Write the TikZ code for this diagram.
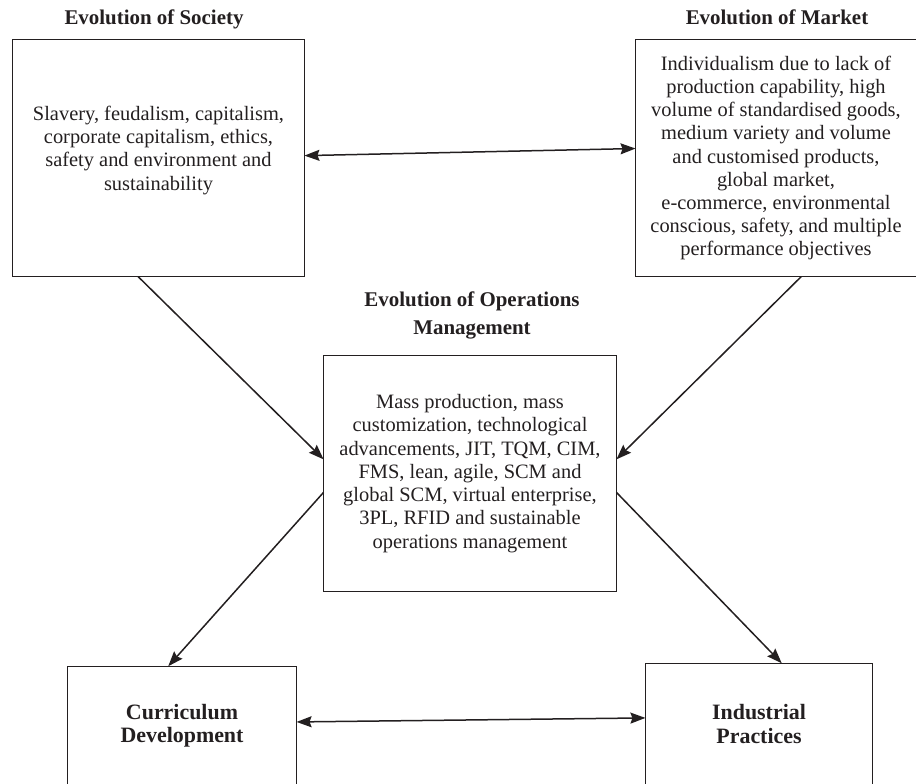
\documentclass[tikz,border=0pt]{standalone}
\usepackage{fontspec}
\setmainfont{Liberation Serif}
\usetikzlibrary{arrows.meta,calc}
\definecolor{ink}{HTML}{231F20}
\tikzset{
  box/.style={draw=ink, line width=1.2bp, inner sep=0pt, outer sep=0pt, align=center, text=ink, font=\fontsize{20.5}{23.3}\selectfont},
  head/.style={text=ink, inner sep=0pt, align=center, font=\bfseries\fontsize{21}{28}\selectfont},
  endbox/.style={box, font=\bfseries\fontsize{22}{23.5}\selectfont},
  tip/.style={-{Stealth[length=15bp, width=11bp, inset=2bp]}},
  link/.style={tip, draw=ink, line width=1.5bp},
  both/.style={{Stealth[length=15bp, width=11bp, inset=2bp]}-{Stealth[length=15bp, width=11bp, inset=2bp]}, draw=ink, line width=1.5bp},
}

\begin{document}
\begin{tikzpicture}[x=1bp, y=-1bp]
  \useasboundingbox (0,0) rectangle (916,784);
  \node[head, anchor=base] (socT) at (154,25) {Evolution of Society};
  \node[head, anchor=base] (mktT) at (777,25) {Evolution of Market};
  \node[head, anchor=north] (opsT) at (472,292) {Evolution of Operations\\Management};
  \node[box, text depth=20bp, minimum width=293, minimum height=238] (soc) at (158.5,158)
    {Slavery, feudalism, capitalism,\\corporate capitalism, ethics,\\safety and environment and\\sustainability};
  \node[box, minimum width=282, minimum height=238] (mkt) at (776,158)
    {Individualism due to lack of\\production capability, high\\volume of standardised goods,\\medium variety and volume\\and customised products,\\global market,\\e-commerce, environmental\\conscious, safety, and multiple\\performance objectives};
  \node[box, minimum width=294, minimum height=237] (ops) at (470,473.5)
    {Mass production, mass\\customization, technological\\advancements, JIT, TQM, CIM,\\FMS, lean, agile, SCM and\\global SCM, virtual enterprise,\\3PL, RFID and sustainable\\operations management};
  \node[endbox, minimum width=230, minimum height=119] (cur) at (182,725.5) {Curriculum\\Development};
  \node[endbox, minimum width=228, minimum height=122] (ind) at (759,724) {Industrial\\Practices};
  \draw[both] ($(soc.north east)!0.49!(soc.south east)$) -- ($(mkt.north west)!0.46!(mkt.south west)$);
  \draw[link] ($(soc.south west)!0.43!(soc.south east)$) -- ($(ops.north west)!0.44!(ops.south west)$);
  \draw[link] ($(mkt.south west)!0.59!(mkt.south east)$) -- ($(ops.north east)!0.44!(ops.south east)$);
  \draw[link] ($(ops.north west)!0.58!(ops.south west)$) -- ($(cur.north west)!0.44!(cur.north east)$);
  \draw[link] ($(ops.north east)!0.58!(ops.south east)$) -- ($(ind.north west)!0.6!(ind.north east)$);
  \draw[both] ($(cur.north east)!0.47!(cur.south east)$) -- ($(ind.north west)!0.45!(ind.south west)$);
\end{tikzpicture}
\end{document}
